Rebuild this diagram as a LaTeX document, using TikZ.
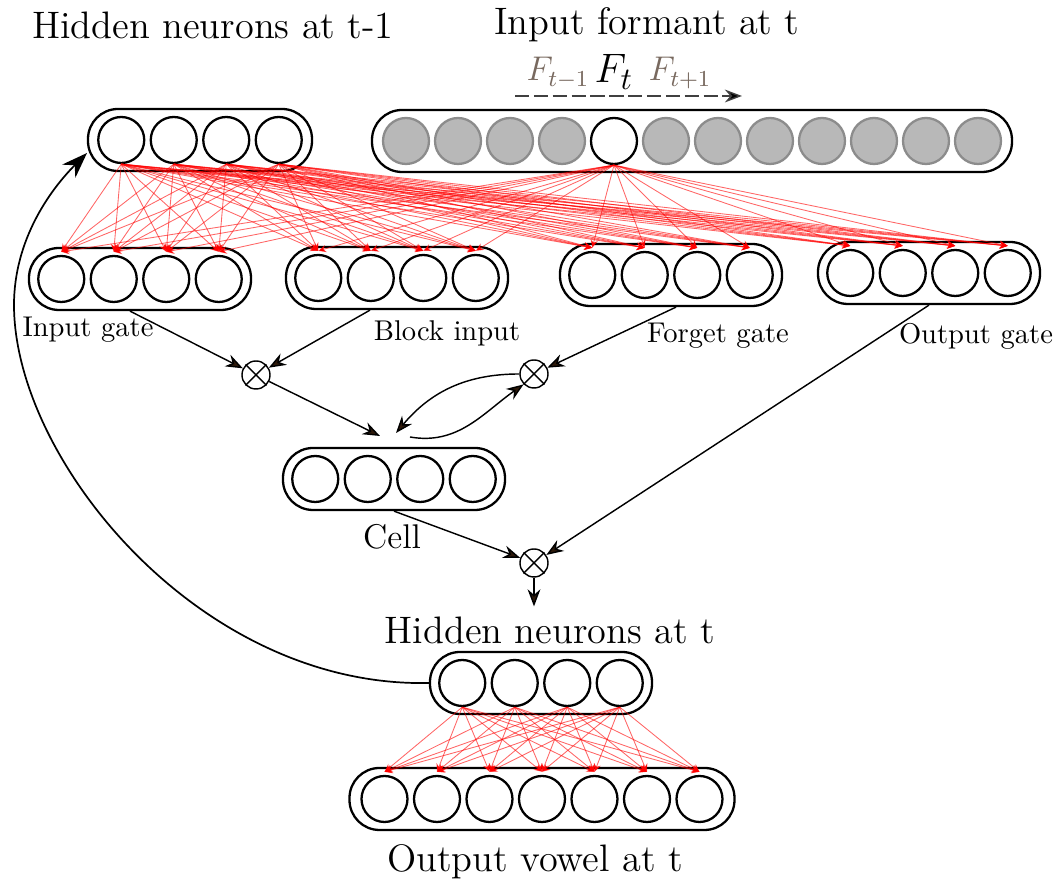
\documentclass[tikz,border=0pt]{standalone}
\usetikzlibrary{arrows.meta,calc}
\definecolor{tipbrown}{RGB}{45,25,10}
\definecolor{fgray}{RGB}{120,105,95}
\begin{document}
\begin{tikzpicture}[x=0.35pt,y=-0.35pt,
  neuron/.style={circle,draw,line width=0.8pt,minimum size=16.1pt,inner sep=0pt},
  gneuron/.style={neuron,fill=black!28,draw=black!45},
  layer/.style={rectangle,draw,line width=0.8pt,rounded corners=10.5pt,minimum height=21.7pt,inner sep=0pt},
  mult/.style={circle,draw,line width=0.5pt,minimum size=9.8pt,inner sep=0pt},
  arr/.style={line width=0.5pt,-{Stealth[length=6pt,width=4.5pt,fill=tipbrown]}},
  redc/.style={red,draw opacity=0.6,line width=0.3pt,-{Stealth[length=2.8pt,width=2.6pt,fill=red]}},
  ttl/.style={font=\fontsize{13.4}{16}\selectfont},
  lbl/.style={font=\fontsize{10}{12}\selectfont}]
\useasboundingbox (0,0) rectangle (1056,888);

% titles
\node[ttl] (tt1) at (213,25) {Hidden neurons at t-1};
\node[ttl] (tt2) at (647,25) {Input formant at t};
\node[ttl] (tt3) at (550,630) {Hidden neurons at t};
\node[ttl] (tt4) at (535,862) {Output vowel at t};

% F labels
\node[text=fgray,font=\fontsize{12}{14}\selectfont] (fm) at (558,73) {$F_{t-1}$};
\node[font=\fontsize{15.5}{18}\selectfont] (f0) at (614,72) {$F_t$};
\node[text=fgray,font=\fontsize{12}{14}\selectfont] (fp) at (680,73) {$F_{t+1}$};
\coordinate (da) at (515,96);
\coordinate (db) at (742,96);
\draw[dash pattern=on 5pt off 1.6pt,line width=0.5pt,black!75,-{Stealth[length=6pt,width=4.5pt,fill=black]}] (da) -- (db);

% layers
\node[layer,minimum width=78.4pt] (hb) at (200,140) {};
\node[layer,minimum width=224pt] (inb) at (692,141) {};
\node[layer,minimum width=77.7pt] (ig) at (140,279) {};
\node[layer,minimum width=77.7pt] (bi) at (397,278) {};
\node[layer,minimum width=77.7pt] (fg) at (671,275) {};
\node[layer,minimum width=77.7pt] (og) at (929,273) {};
\node[layer,minimum width=77.7pt] (cell) at (394,479) {};
\node[layer,minimum width=77.7pt] (ht) at (541,683) {};
\node[layer,minimum width=134.75pt] (ob) at (542,799) {};

% neurons
\foreach \i [evaluate=\i as \dx using (\i-2.5)*52.5] in {1,...,4}{
  \node[neuron] (h\i) at ($(hb)+(\dx,0)$) {};
  \node[neuron] (ig\i) at ($(ig)+(\dx,0)$) {};
  \node[neuron] (bi\i) at ($(bi)+(\dx,0)$) {};
  \node[neuron] (fg\i) at ($(fg)+(\dx,0)$) {};
  \node[neuron] (og\i) at ($(og)+(\dx,0)$) {};
  \node[neuron] (c\i) at ($(cell)+(\dx,0)$) {};
  \node[neuron] (t\i) at ($(ht)+(\dx,0)$) {};
}
\foreach \i [evaluate=\i as \dx using (\i-4)*52.5] in {1,...,7}{
  \node[neuron] (o\i) at ($(ob)+(\dx,0)$) {};
}
\foreach \i [evaluate=\i as \dx using (\i-6.5)*52] in {1,2,3,4,6,7,8,9,10,11,12}{
  \node[gneuron] (x\i) at ($(inb)+(\dx,0)$) {};
}
\node[neuron] (x5) at ($(inb)+(-78,0)$) {};

% red connections
\foreach \s in {h1,h2,h3,h4,x5}{
  \foreach \g in {ig,bi,fg,og}{
    \foreach \k in {1,...,4}{
      \draw[redc] (\s.south) -- ($(\g\k.north)+(0,-3)$);
    }
  }
}
\foreach \s in {t1,t2,t3,t4}{
  \foreach \k in {1,...,7}{
    \draw[redc] (\s.south) -- ($(o\k.north)+(0,-3)$);
  }
}

% labels
\node[lbl] (igl) at (88,330) {Input gate};
\node[lbl] (bil) at (447,333) {Block input};
\node[lbl] (fgl) at (718,336) {Forget gate};
\node[lbl] (ogl) at (976,336) {Output gate};
\node[font=\fontsize{12}{14}\selectfont] (cl) at (392,537) {Cell};

% multipliers
\foreach \m/\x/\y in {m1/256/375, m2/534/374, m3/534/563}{
  \node[mult] (\m) at (\x,\y) {};
  \draw[line width=0.5pt] (\m.north east) -- (\m.south west) (\m.north west) -- (\m.south east);
}

% gate arrows
\draw[arr] ($(ig.south)+(-10,0)$) -- (m1);
\draw[arr] ($(bi.south)+(-27,0)$) -- (m1);
\draw[arr] ($(fg.south)+(5,0)$) -- (m2);
\draw[arr] (og.south) -- (m3);
\coordinate (cin1) at (380,436);
\coordinate (cin2) at (396,433);
\coordinate (cout) at (410,437);
\draw[arr] (m1) -- (cin1);
\draw[arr] (m2.west) to[out=180,in=50] (cin2);
\draw[arr] (cout) to[out=-10,in=215] (m2.south west);
\draw[arr] (cell.south) -- (m3);
\draw[arr] (m3.south) -- (tt3.north -| m3);

% feedback
\coordinate (fb) at (87,153);
\coordinate (fl) at (14,305);
\draw[line width=0.6pt,-{Stealth[length=9pt,width=6.5pt,fill=black]}] (ht.west) .. controls (200,688) and (14,460) .. (fl) .. controls (14,240) and (50,190) .. (fb);
\end{tikzpicture}
\end{document}
